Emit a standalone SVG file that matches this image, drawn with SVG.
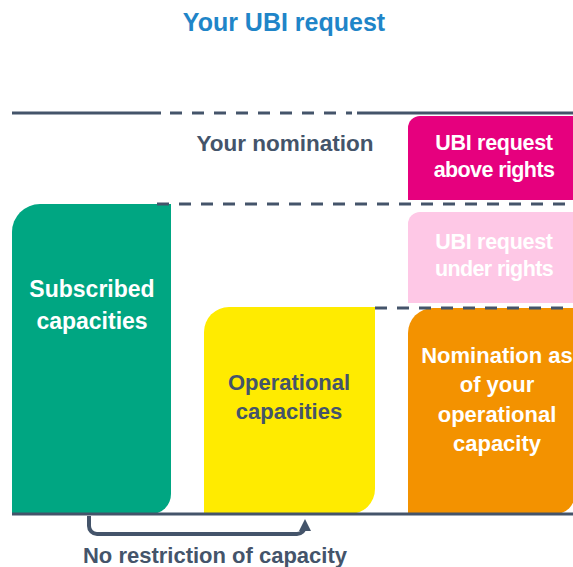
<svg xmlns="http://www.w3.org/2000/svg" width="573" height="567" viewBox="0 0 573 567">
<style>
text{font-family:"Liberation Sans",Arial,sans-serif;font-weight:bold;text-anchor:middle}
.w{fill:#FFFFFF;font-size:22px}
.d{fill:#44546A;font-size:22px}
.ln{stroke:#44546A;stroke-width:3;fill:none}
.ds{stroke:#44546A;stroke-width:3;fill:none;stroke-dasharray:12 10}
</style>
<defs>
<marker id="ah" viewBox="0 0 10 10" refX="5" refY="5" markerWidth="3" markerHeight="3" orient="auto-start-reverse" markerUnits="strokeWidth">
<path d="M0,0 L10,5 L0,10 z" fill="#44546A"/>
</marker>
</defs>
<rect width="573" height="567" fill="#FFFFFF"/>
<text x="284" y="31" style="fill:#1F85C8;font-size:25px">Your UBI request</text>
<g id="subscribed">
<path d="M40,204 H171 V494 A20,20 0 0 1 151,514 H12 V232 A28,28 0 0 1 40,204 Z" fill="#00A682"/>
<text class="w" x="92" y="297" style="font-size:23px">Subscribed</text>
<text class="w" x="92" y="329" style="font-size:23px">capacities</text>
</g>
<g id="operational">
<path d="M229,307 H375 V489 A25,25 0 0 1 350,514 H204 V332 A25,25 0 0 1 229,307 Z" fill="#FFEB00"/>
<text class="d" x="289" y="390">Operational</text>
<text class="d" x="289" y="419">capacities</text>
</g>
<g id="nomination-op">
<path d="M433,308 H575 V494 A20,20 0 0 1 555,514 H408 V333 A25,25 0 0 1 433,308 Z" fill="#F39200"/>
<text class="w" x="497" y="363">Nomination as</text>
<text class="w" x="497" y="392">of your</text>
<text class="w" x="497" y="422">operational</text>
<text class="w" x="497" y="451">capacity</text>
</g>
<g id="ubi-above">
<path d="M420,116 H575 V200 H408 V128 A12,12 0 0 1 420,116 Z" fill="#E6007E"/>
<text class="w" x="494" y="150" style="font-size:21.5px;letter-spacing:-0.3px">UBI request</text>
<text class="w" x="494" y="177" style="font-size:21.5px;letter-spacing:-0.6px">above rights</text>
</g>
<g id="ubi-under">
<path d="M420,212 H575 V303 H408 V224 A12,12 0 0 1 420,212 Z" fill="#FEC8E6"/>
<text class="w" x="494" y="249" style="font-size:21.5px;letter-spacing:-0.3px">UBI request</text>
<text class="w" x="494" y="276" style="font-size:21.5px;letter-spacing:-0.6px">under rights</text>
</g>
<g id="your-nomination">
<text class="d" x="285" y="151" style="font-size:22.5px">Your nomination</text>
</g>
<g id="connectors">
<path class="ln" d="M12,113 H161"/>
<path class="ds" d="M170,113 H352"/>
<path class="ln" d="M357,113 H573"/>
<path class="ds" d="M157,204 H573"/>
<path class="ds" d="M375,308 H573"/>
<path class="ln" d="M12,514 H573"/>
<path d="M89,516 V526 A8,8 0 0 0 97,534 H297 A8,8 0 0 0 305,526 V525" stroke="#44546A" stroke-width="4" fill="none" marker-end="url(#ah)"/>
<text class="d" x="215" y="563">No restriction of capacity</text>
</g>
</svg>
